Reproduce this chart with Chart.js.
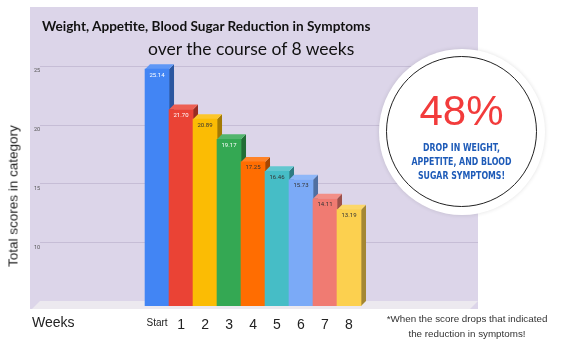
<!DOCTYPE html>
<html>
<head>
<meta charset="utf-8">
<script src="https://cdn.jsdelivr.net/npm/chart.js@4"></script>
<style>
  body { margin: 0; background: #fff; }
  #wrap { position: relative; width: 565px; height: 364px; overflow: hidden; }
  #chart { position: absolute; left: 0; top: 0; }
  .txt { position: absolute; white-space: nowrap; }
  #title { left: 42px; top: 18px; font: bold 13.6px Lato, sans-serif; color: #111; }
  #subtitle { left: 148px; top: 38px; font: 17.5px Lato, sans-serif; color: #111; }
  #ytitle { left: 13px; top: 196px; font: 13.5px "Liberation Sans", Arial, sans-serif; color: #222;
    transform: translate(-50%, -50%) rotate(-90deg); }
  #weeks { left: 32px; top: 314px; font: 14px "Liberation Sans", Arial, sans-serif; color: #222; }
  #badge { position: absolute; left: 379px; top: 49px; width: 166px; height: 166px; border-radius: 50%;
    background: #fff; box-shadow: 0 0 4px rgba(0,0,0,0.12); }
  #ring { position: absolute; left: 7px; top: 7px; width: 149px; height: 149px; border-radius: 50%;
    border: 1.5px solid #222; text-align: center; }
  #pct { position: absolute; left: 0; right: 0; top: 33px; font: 42px "Liberation Sans", Arial, sans-serif; color: #F23B3B; line-height: 1; }
  #drop { position: absolute; left: 0; right: 0; top: 83px; font: bold 10.5px "DejaVu Sans Condensed", sans-serif;
    color: #1E5BB8; line-height: 14px; transform: scaleX(0.83); }
  #note { left: 386px; top: 311px; width: 162px; text-align: center; white-space: normal;
    font: 9.8px "Liberation Sans", Arial, sans-serif; color: #333; line-height: 15px; }
</style>
</head>
<body>
<div id="wrap">
  <canvas id="chart" width="565" height="364"></canvas>
  <div class="txt" id="title">Weight, Appetite, Blood Sugar Reduction in Symptoms</div>
  <div class="txt" id="subtitle">over the course of 8 weeks</div>
  <div class="txt" id="ytitle">Total scores in category</div>
  <div class="txt" id="weeks">Weeks</div>
  <div id="badge"><div id="ring">
    <div id="pct">48%</div>
    <div id="drop">DROP IN WEIGHT,<br>APPETITE, AND BLOOD<br>SUGAR SYMPTOMS!</div>
  </div></div>
  <div class="txt" id="note">*When the score drops that indicated the reduction in symptoms!</div>
</div>
<script>
// data
const weeks = ['Start', '1', '2', '3', '4', '5', '6', '7', '8'];
const scores = [25.14, 21.70, 20.89, 19.17, 17.25, 16.46, 15.73, 14.11, 13.19];
const yTicks = [10, 15, 20, 25];

// styles
const barColors = ['#4285F4', '#EA4335', '#FBBC04', '#34A853', '#FF6D01', '#46BDC6', '#7BAAF7', '#F07B72', '#FCD04F'];
const valueColors = ['#fff', '#fff', '#333', '#fff', '#333', '#333', '#333', '#333', '#333'];
const depth = 5;      // bar depth in px
const wallDepth = 5;  // back wall offset for gridlines

function shade(hex, f) {
    let r = parseInt(hex.slice(1, 3), 16), g = parseInt(hex.slice(3, 5), 16), b = parseInt(hex.slice(5, 7), 16);
    if (f < 0) { r *= 1 + f; g *= 1 + f; b *= 1 + f; }
    else { r += (255 - r) * f; g += (255 - g) * f; b += (255 - b) * f; }
    return 'rgb(' + Math.round(r) + ',' + Math.round(g) + ',' + Math.round(b) + ')';
}

// lavender panel, floor and back wall gridlines
const wallPlugin = {
    id: 'wall',
    beforeDraw(chart) {
        const ctx = chart.ctx, a = chart.chartArea, y = chart.scales.y;
        ctx.save();
        ctx.fillStyle = '#DCD5E9';
        ctx.fillRect(a.left - 2, a.top - wallDepth, a.right - a.left + 8, a.bottom - a.top + wallDepth + 3);
        // floor
        ctx.fillStyle = '#ECE9EF';
        ctx.beginPath();
        ctx.moveTo(a.left, a.bottom + 3);
        ctx.lineTo(a.right - 2, a.bottom + 3);
        ctx.lineTo(a.right + 6, a.bottom - wallDepth);
        ctx.lineTo(a.left + 8, a.bottom - wallDepth);
        ctx.closePath();
        ctx.fill();
        // gridlines on the back wall
        ctx.strokeStyle = '#C6BDD6';
        ctx.lineWidth = 1;
        yTicks.forEach(function (v) {
            const py = Math.round(y.getPixelForValue(v) - wallDepth) + 0.5;
            ctx.beginPath();
            ctx.moveTo(a.left + 8, py);
            ctx.lineTo(a.right + 6, py);
            ctx.stroke();
        });
        ctx.restore();
    }
};

// side and top faces behind the front of each bar
const bar3dPlugin = {
    id: 'bar3d',
    beforeDatasetsDraw(chart) {
        const ctx = chart.ctx;
        const meta = chart.getDatasetMeta(0);
        const bottom = chart.chartArea.bottom;
        ctx.save();
        meta.data.forEach(function (bar, i) {
            const l = bar.x - bar.width / 2, r = bar.x + bar.width / 2;
            const base = Math.min(bar.base, bottom);
            // side
            ctx.fillStyle = shade(barColors[i], -0.35);
            ctx.beginPath();
            ctx.moveTo(r, bar.y);
            ctx.lineTo(r + depth, bar.y - depth);
            ctx.lineTo(r + depth, base - depth);
            ctx.lineTo(r, base);
            ctx.closePath();
            ctx.fill();
            // top
            ctx.fillStyle = shade(barColors[i], 0.15);
            ctx.beginPath();
            ctx.moveTo(l, bar.y);
            ctx.lineTo(r, bar.y);
            ctx.lineTo(r + depth, bar.y - depth);
            ctx.lineTo(l + depth, bar.y - depth);
            ctx.closePath();
            ctx.fill();
        });
        ctx.restore();
    },
    afterDatasetsDraw(chart) {
        const ctx = chart.ctx;
        const meta = chart.getDatasetMeta(0);
        ctx.save();
        ctx.font = '6px Roboto, sans-serif';
        ctx.textAlign = 'center';
        ctx.textBaseline = 'middle';
        meta.data.forEach(function (bar, i) {
            ctx.fillStyle = valueColors[i];
            ctx.fillText(scores[i].toFixed(2), bar.x, bar.y + 6);
        });
        ctx.restore();
    }
};

new Chart(document.getElementById('chart'), {
    type: 'bar',
    data: {
        datasets: [{
            data: scores.map(function (v, i) { return { x: i, y: v }; }),
            backgroundColor: barColors,
            borderWidth: 0,
            barThickness: 24
        }]
    },
    options: {
        responsive: false,
        animation: false,
        layout: { padding: { left: 32, top: 12, right: 93, bottom: 0 } },
        plugins: { legend: { display: false }, tooltip: { enabled: false } },
        scales: {
            x: {
                type: 'linear',
                offset: false,
                min: -5.21,
                max: 13.125,
                grid: { display: false },
                border: { display: false },
                afterBuildTicks: function (scale) {
                    scale.ticks = weeks.map(function (w, i) { return { value: i }; });
                },
                afterFit: function (scale) { scale.height = 58; },
                ticks: {
                    autoSkip: false,
                    maxRotation: 0,
                    padding: 3,
                    color: '#222',
                    font: function (c) {
                        return { family: 'Liberation Sans, Arial, sans-serif', size: c.index === 0 ? 10 : 14 };
                    },
                    callback: function (v) { return weeks[v]; }
                }
            },
            y: {
                min: 5,
                max: 30,
                grid: { display: false },
                border: { display: false },
                afterBuildTicks: function (scale) {
                    scale.ticks = yTicks.map(function (v) { return { value: v }; });
                },
                afterFit: function (scale) { scale.width = 0; },
                ticks: {
                    mirror: true,
                    padding: 2,
                    color: '#555',
                    font: { family: 'Roboto, sans-serif', size: 5.5 }
                }
            }
        }
    },
    plugins: [wallPlugin, bar3dPlugin]
});
</script>
</body>
</html>
